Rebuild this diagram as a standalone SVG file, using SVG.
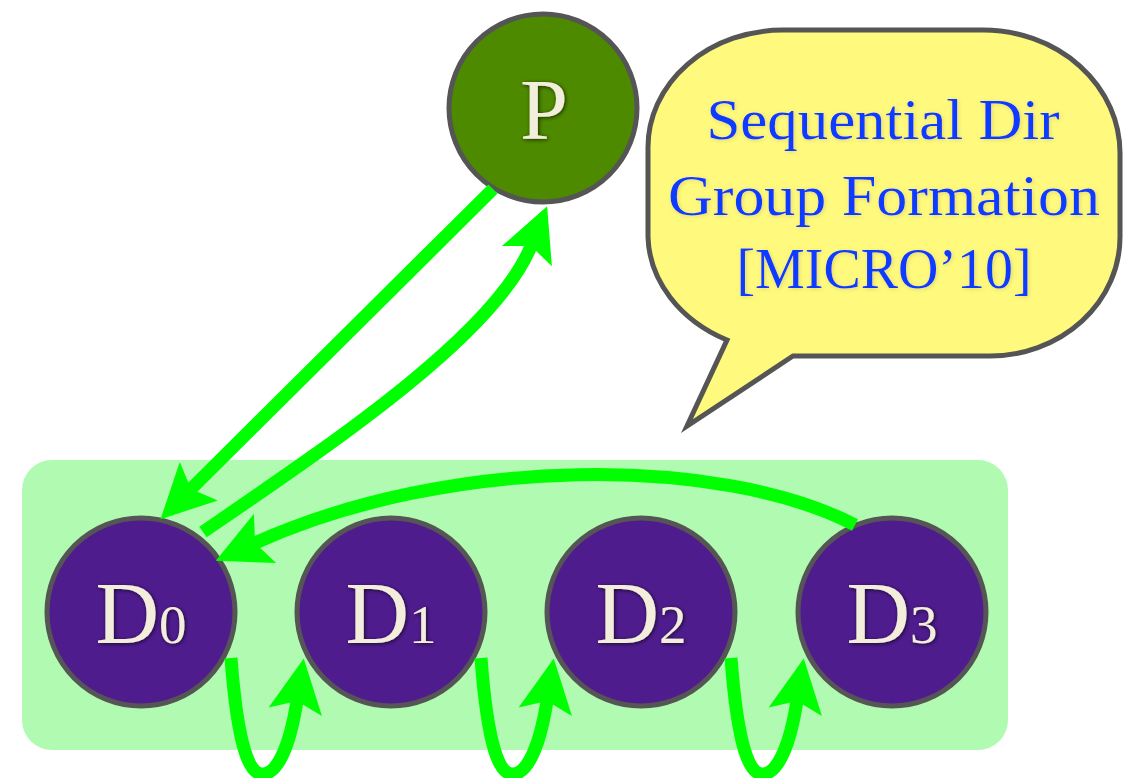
<svg xmlns="http://www.w3.org/2000/svg" width="1140" height="778" viewBox="0 0 1140 778">
  <style>
    .node { stroke: #555555; stroke-width: 5; }
    .dnode { fill: #4F1C8E; }
    .pnode { fill: #4E8A00; }
    .lbl { font-family: "Liberation Serif", "Times New Roman", serif; fill: #F3EEDC; text-anchor: middle; filter: url(#tshadow); }
    .big { font-size: 88px; }
    .sub { font-size: 55px; }
    .conn { fill: none; stroke: #00FF00; stroke-width: 13; marker-end: url(#head); }
    .btext { font-family: "Liberation Serif", "Times New Roman", serif; font-size: 56px; fill: #0A3BFF; text-anchor: middle; filter: url(#bshadow); }
  </style>
  <defs>
    <marker id="head" markerUnits="userSpaceOnUse" orient="auto" refX="0" refY="0" markerWidth="120" markerHeight="120" viewBox="-60 -60 120 120" overflow="visible">
      <path d="M 43 0 L -11 -27 L 0 0 L -11 27 Z" fill="#00FF00"/>
    </marker>
    <filter id="tshadow" x="-20%" y="-20%" width="140%" height="140%">
      <feDropShadow dx="1" dy="1" stdDeviation="2" flood-color="#000000" flood-opacity="0.7"/>
    </filter>
    <filter id="bshadow" x="-10%" y="-20%" width="120%" height="140%">
      <feDropShadow dx="1" dy="1" stdDeviation="2" flood-color="#C8C060" flood-opacity="0.6"/>
    </filter>
  </defs>

  <rect id="group-bg" x="22" y="460" width="986" height="290" rx="30" ry="30" fill="#B1FAB1"/>

  <g id="bubble">
    <path d="M 793 356 L 990 356 A 130 119 0 0 0 1120 237 L 1120 153 A 137 123 0 0 0 983 30 L 783 30 A 135 117 0 0 0 648 147 L 648 237 A 145 119 0 0 0 727 340 L 687 426 Z" fill="#FFFA7D" stroke="#555555" stroke-width="5" stroke-linejoin="miter"/>
    <text class="btext" x="883" y="139" textLength="353" lengthAdjust="spacingAndGlyphs">Sequential Dir</text>
    <text class="btext" x="884" y="215" textLength="432" lengthAdjust="spacingAndGlyphs">Group Formation</text>
    <text class="btext" x="884" y="288" textLength="295" lengthAdjust="spacingAndGlyphs">[MICRO’10]</text>
  </g>

  <g id="P">
    <circle class="node pnode" cx="543" cy="108" r="94"/>
    <text class="lbl" x="544" y="139" font-size="86">P</text>
  </g>

  <g id="D0">
    <circle class="node dnode" cx="141" cy="612" r="94"/>
    <text class="lbl" x="141" y="643"><tspan class="big">D</tspan><tspan class="sub">0</tspan></text>
  </g>
  <g id="D1">
    <circle class="node dnode" cx="391" cy="612" r="94"/>
    <text class="lbl" x="391" y="643"><tspan class="big">D</tspan><tspan class="sub">1</tspan></text>
  </g>
  <g id="D2">
    <circle class="node dnode" cx="641" cy="612" r="94"/>
    <text class="lbl" x="641" y="643"><tspan class="big">D</tspan><tspan class="sub">2</tspan></text>
  </g>
  <g id="D3">
    <circle class="node dnode" cx="892" cy="612" r="94"/>
    <text class="lbl" x="892" y="643"><tspan class="big">D</tspan><tspan class="sub">3</tspan></text>
  </g>

  <g id="connectors">
    <path class="conn" d="M 493 189 L 191 489"/>
    <path class="conn" d="M 203 532 C 330 445, 495 335, 531 246"/>
    <path class="conn" d="M 855 525 C 720 455, 450 455, 255 543"/>
    <path class="conn" d="M 231 658 C 238 750, 250 776, 264 774 C 278 772, 290 745, 297 701"/>
    <path class="conn" d="M 481 658 C 488 750, 500 776, 514 774 C 528 772, 540 745, 547 701"/>
    <path class="conn" d="M 731 658 C 738 750, 750 776, 764 774 C 778 772, 790 745, 797 701"/>
  </g>
</svg>
